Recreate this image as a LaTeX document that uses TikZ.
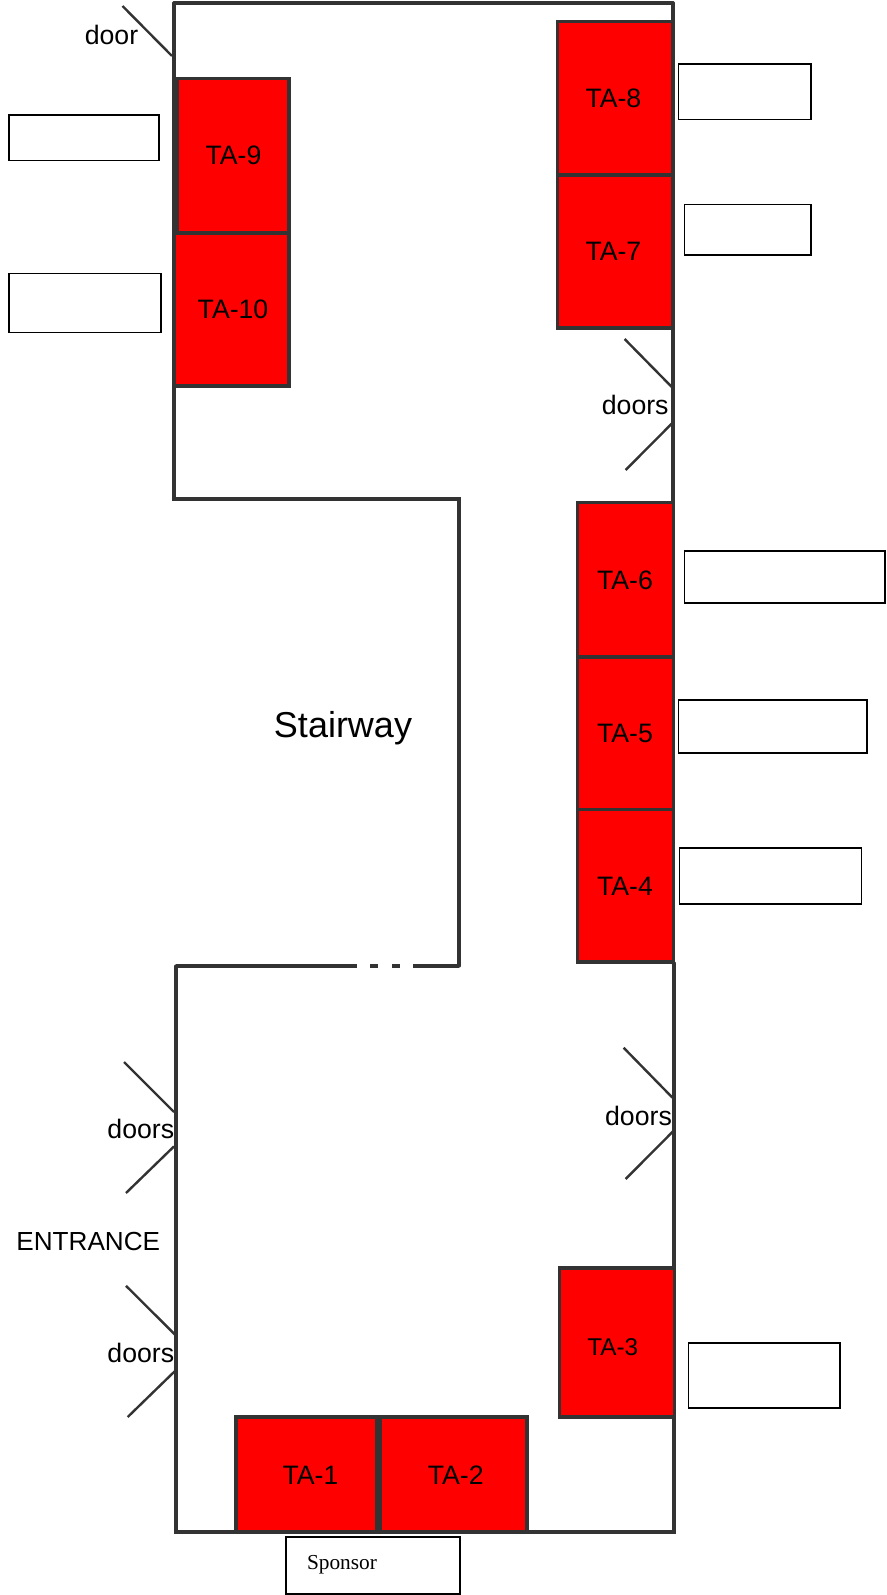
\documentclass[tikz,border=0pt]{standalone}
\usepackage{fontspec}
\setmainfont{Liberation Sans}
\newfontfamily\timesfam{Liberation Serif}
\definecolor{wallc}{HTML}{333333}
\tikzset{
  wall/.style={draw=wallc,line width=2.4pt,line cap=round},
  doorleaf/.style={draw=wallc,line width=1.8pt},
  tabooth/.style={draw=wallc,fill=red,line width=2.4pt},
  signbox/.style={draw=black,fill=white,line width=1.25pt},
  talabel/.style={font=\fontsize{20}{24}\selectfont,inner sep=0pt,text=black},
  plainlabel/.style={font=\fontsize{20}{24}\selectfont,inner sep=0pt,text=black},
}
\begin{document}
\begin{tikzpicture}[x=0.75pt,y=-0.75pt]
\useasboundingbox (0,0) rectangle (886,1595);
% walls
\draw[wall] (174,3) -- (673,3);
\draw[wall] (174,3) -- (174,499) -- (459,499) -- (459,966);
\draw[wall] (673,3) -- (673,963);
\draw[wall] (674,963) -- (674,1532) -- (176,1532) -- (176,966);
\draw[wall,line cap=butt] (176,966) -- (357,966);
\draw[wall,line cap=butt] (370,966) -- (378,966);
\draw[wall,line cap=butt] (392,966) -- (400,966);
\draw[wall,line cap=butt] (413,966) -- (459,966);
% doors
\draw[doorleaf] (122.5,6) -- (172,56);
\draw[doorleaf] (624.6,339) -- (672.4,387.6);
\draw[doorleaf] (672.4,423) -- (625.6,470);
\draw[doorleaf] (623.6,1047.7) -- (672.4,1097.6);
\draw[doorleaf] (673.4,1131) -- (625.6,1179);
\draw[doorleaf] (124,1062) -- (174,1112);
\draw[doorleaf] (174,1146.4) -- (126,1193);
\draw[doorleaf] (126,1285.8) -- (175,1334.6);
\draw[doorleaf] (175,1371) -- (127.7,1417);
% booths
\draw[tabooth] (177,78.7) rectangle (289,232.7);
\draw[tabooth] (174,233) rectangle (289,386);
\draw[tabooth] (557.4,21.4) rectangle (672.5,175);
\draw[tabooth] (557.4,175) rectangle (672.5,328);
\draw[tabooth] (577.8,502.5) rectangle (673.4,657);
\draw[tabooth] (577.8,657) rectangle (673.4,809.7);
\draw[tabooth] (577.8,809.7) rectangle (673.4,962);
\draw[tabooth] (559.5,1268) rectangle (674.4,1417);
\draw[tabooth] (236,1417) rectangle (377,1532);
\draw[tabooth] (380,1417) rectangle (527,1532);
% sign boxes
\draw[signbox] (9,115) rectangle (158.7,160.5);
\draw[signbox] (9,273.6) rectangle (161,332.6);
\draw[signbox] (678.5,64) rectangle (810.7,119.5);
\draw[signbox] (684.6,204.5) rectangle (810.7,255);
\draw[signbox] (684.6,551) rectangle (885,603);
\draw[signbox] (678.5,700) rectangle (866.7,752.7);
\draw[signbox] (679.5,848) rectangle (861.6,904);
\draw[signbox] (688.6,1342.7) rectangle (840,1407.8);
\draw[signbox] (286,1537) rectangle (460,1594);
% labels
\node[talabel] (ta9) at (233.5,155.6) {TA-9};
\node[talabel] (ta10) at (233,309) {TA-10};
\node[talabel] (ta8) at (613.4,98.7) {TA-8};
\node[talabel] (ta7) at (613.4,251) {TA-7};
\node[talabel] (ta6) at (625,580) {TA-6};
\node[talabel] (ta5) at (625,733) {TA-5};
\node[talabel] (ta4) at (625,886) {TA-4};
\node[inner sep=0pt,font=\fontsize{18.2}{22}\selectfont] (ta3) at (612.8,1347) {TA-3};
\node[talabel] (ta1) at (310.5,1475) {TA-1};
\node[talabel] (ta2) at (455.7,1475) {TA-2};
\node[inner sep=0pt,font=\fontsize{27}{32}\selectfont] (stair) at (343,728) {Stairway};
\node[plainlabel] (door1) at (111.5,35) {door};
\node[plainlabel] (doors1) at (635.2,405) {doors};
\node[plainlabel] (doors2) at (638.5,1116) {doors};
\node[plainlabel] (doors3) at (140.8,1129) {doors};
\node[plainlabel] (doors4) at (140.8,1353) {doors};
\node[font=\fontsize{19.6}{24}\selectfont,inner sep=0pt] (entrance) at (88.3,1241) {ENTRANCE};
\node[inner sep=0pt,font=\timesfam\fontsize{16}{19}\selectfont] (sponsor) at (342,1565) {Sponsor};
\end{tikzpicture}
\end{document}
